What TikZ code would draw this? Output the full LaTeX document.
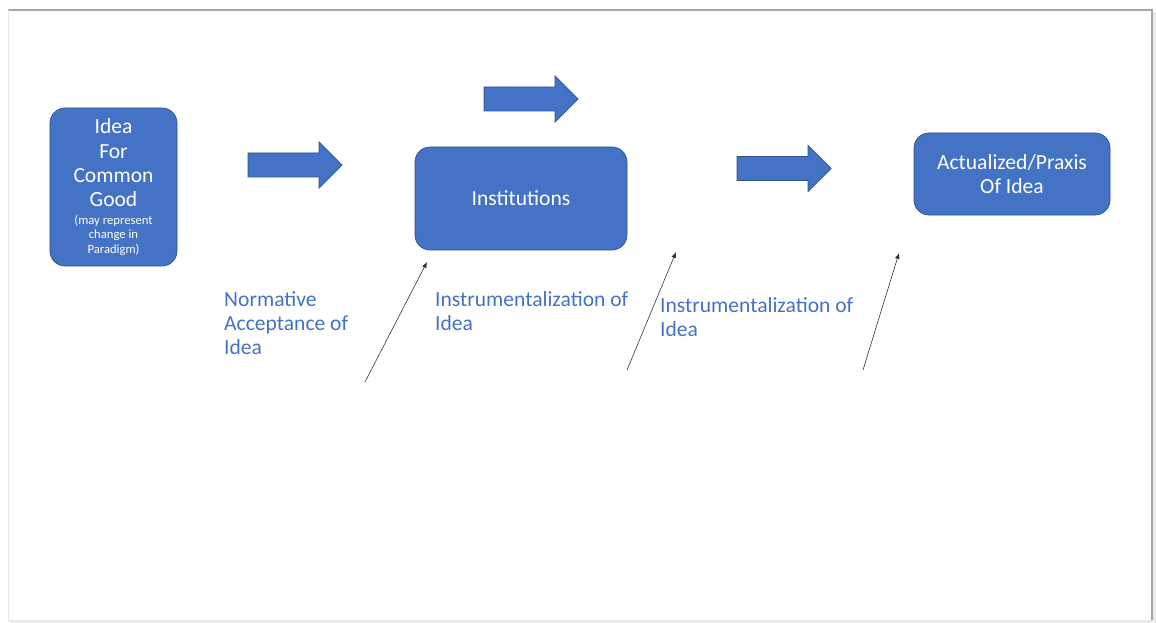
\documentclass[tikz,border=0pt]{standalone}
\usepackage{fontspec}
\setmainfont{Carlito}
\usepackage{tikz}
\usetikzlibrary{arrows.meta, positioning, calc}
\usepackage{xcolor}
\definecolor{azul}{HTML}{4472C4}
\definecolor{azulborde}{HTML}{2F528F}
\newcommand{\letrachica}{\fontsize{10.8}{12}\selectfont}

\begin{document}
\begin{tikzpicture}[
				x=0.03cm, y=-0.03cm, % un pixel de la referencia
				% --- Estilos ---
				caja/.style={
					draw=azulborde, 
					fill=azul,
					rectangle, 
					rounded corners=0.45cm, 
					text=white,
					align=center,
					line width=0.6pt,
					font=\fontsize{18.4}{20.8}\selectfont
				},
				bloque_flecha/.style={
					draw=azulborde,
					fill=azul,
					line width=0.6pt
				},
				etiqueta/.style={
					anchor=north west,
					inner sep=0pt,
					align=left,
					text=azul,
					font=\fontsize{18.4}{20.8}\selectfont
				},
				flecha_fina/.style={
					-{Latex[length=5pt, width=4pt]},
					line width=0.5pt,
					black!80
				}
				]
				% 0. Marco con sombra
				\useasboundingbox (0,0) rectangle (1156,623);
				\fill[gray!15] (10,12) rectangle (1156,623);
				\fill[white] (8,10) rectangle (1152,620);
				\draw[gray!70, line width=2.5pt] (8,10) -- (1152,10) -- (1152,620);
				\draw[gray!20, line width=0.5pt] (8,10) -- (8,620) -- (1152,620);
				
				% 1. Cajas
				\node[caja, minimum width=3.81cm, minimum height=4.74cm] (idea) at (113.5,187) {Idea\\For\\Common\\Good\\[-6pt]
					\letrachica (may represent\\[-8.5pt]\letrachica change in\\[-8.5pt]\letrachica Paradigm)};
				\node[caja, minimum width=6.36cm, minimum height=3.09cm] (inst) at (521,198.5) {Institutions};
				\node[caja, minimum width=5.88cm, minimum height=2.46cm] (praxis) at (1012,174) {Actualized/Praxis\\Of Idea};
				
				% 2. Flechas de bloque (punto de partida a la izquierda)
				\coordinate (flecha_uno) at (248,165);
				\coordinate (flecha_arriba) at (484,99);
				\coordinate (flecha_dos) at (737,168.5);
				\foreach \f in {flecha_uno, flecha_arriba, flecha_dos}
					\draw[bloque_flecha] (\f) ++(0,-12) -- ++(71,0) -- ++(0,-11)
						-- ++(23,23) -- ++(-23,23) -- ++(0,-11) -- ++(-71,0) -- cycle;
				
				% 3. Etiquetas
				\node[etiqueta] (normativa) at (224,291) {Normative\\Acceptance of\\Idea};
				\node[etiqueta] (instr_uno) at (435,291) {Instrumentalization of\\Idea};
				\node[etiqueta] (instr_dos) at (660,297) {Instrumentalization of\\Idea};
				
				% 4. Flechas finas (extremos libres)
				\coordinate (pie_uno) at (365,382);
				\coordinate (punta_uno) at (427,262);
				\coordinate (pie_dos) at (627,370);
				\coordinate (punta_dos) at (676,252);
				\coordinate (pie_tres) at (863,370);
				\coordinate (punta_tres) at (899,253);
				\draw[flecha_fina] (pie_uno) -- (punta_uno);
				\draw[flecha_fina] (pie_dos) -- (punta_dos);
				\draw[flecha_fina] (pie_tres) -- (punta_tres);
				
			\end{tikzpicture}
\end{document}
